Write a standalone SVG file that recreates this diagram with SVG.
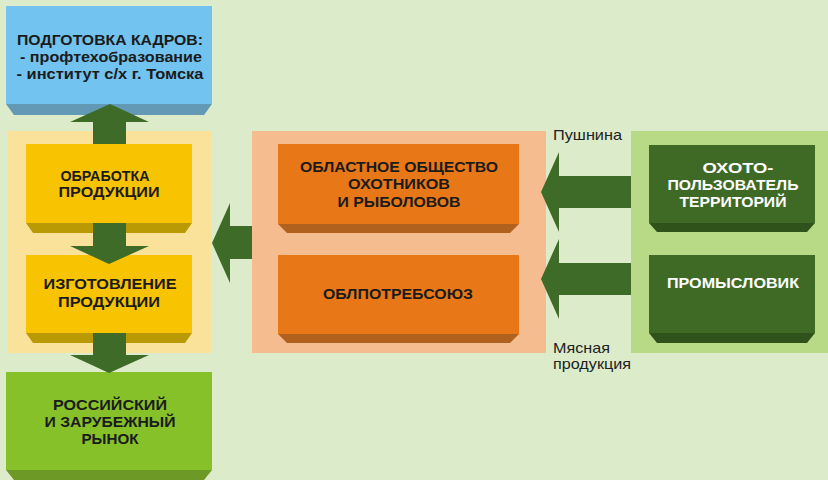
<svg xmlns="http://www.w3.org/2000/svg" width="828" height="480" viewBox="0 0 828 480">
<style>
.t{font-family:"Liberation Sans",Arial,sans-serif;font-weight:bold;font-size:15px;fill:#1b1b1b;text-anchor:middle}
.h{font-size:15.5px}
.w{fill:#ffffff}
.l{font-family:"Liberation Sans",Arial,sans-serif;font-size:15px;fill:#222222}
.arr{fill:#3e6b27}
</style>
<rect width="828" height="480" fill="#dcebca"/>
<g id="panels">
<rect x="8" y="131" width="203" height="222" fill="#fbe29b"/>
<rect x="252" y="131" width="294" height="222" fill="#f5bc8f"/>
<rect x="631" y="131" width="197" height="222" fill="#b8da86"/>
</g>
<g id="node-kadry">
<polygon points="6,104 212,104 204,115 14,115" fill="#6399b5"/>
<rect x="6" y="6" width="206" height="98" fill="#72c3ef"/>
<text class="t h" x="110" y="45" textLength="186" lengthAdjust="spacingAndGlyphs">ПОДГОТОВКА КАДРОВ:</text>
<text class="t h" x="111" y="62" textLength="182" lengthAdjust="spacingAndGlyphs">- профтехобразование</text>
<text class="t h" x="110" y="79" textLength="187" lengthAdjust="spacingAndGlyphs">- институт с/х г. Томска</text>
</g>
<g id="node-obrabotka">
<polygon points="26,223 192,223 185,233 33,233" fill="#b99a05"/>
<rect x="26" y="144" width="166" height="79" fill="#f8c300"/>
<text class="t" x="105" y="181" textLength="89" lengthAdjust="spacingAndGlyphs">ОБРАБОТКА</text>
<text class="t" x="109" y="197" textLength="101" lengthAdjust="spacingAndGlyphs">ПРОДУКЦИИ</text>
</g>
<g id="node-izgotovlenie">
<polygon points="26,333 192,333 185,343 33,343" fill="#b99a05"/>
<rect x="26" y="255" width="166" height="78" fill="#f8c300"/>
<text class="t" x="110" y="289" textLength="133" lengthAdjust="spacingAndGlyphs">ИЗГОТОВЛЕНИЕ</text>
<text class="t" x="109" y="307" textLength="102" lengthAdjust="spacingAndGlyphs">ПРОДУКЦИИ</text>
</g>
<g id="node-rynok">
<polygon points="6,470 212,470 204,480 14,480" fill="#6d9a27"/>
<rect x="6" y="372" width="206" height="98" fill="#86c12a"/>
<text class="t" x="110" y="410" textLength="114" lengthAdjust="spacingAndGlyphs">РОССИЙСКИЙ</text>
<text class="t" x="110" y="427" textLength="131" lengthAdjust="spacingAndGlyphs">И ЗАРУБЕЖНЫЙ</text>
<text class="t" x="110" y="444" textLength="57" lengthAdjust="spacingAndGlyphs">РЫНОК</text>
</g>
<g id="node-obshchestvo">
<polygon points="278,224 519,224 510,233 287,233" fill="#b0611d"/>
<rect x="278" y="144" width="241" height="80" fill="#e87817"/>
<text class="t" x="399" y="172" textLength="198" lengthAdjust="spacingAndGlyphs">ОБЛАСТНОЕ ОБЩЕСТВО</text>
<text class="t" x="399" y="189" textLength="102" lengthAdjust="spacingAndGlyphs">ОХОТНИКОВ</text>
<text class="t" x="399" y="207" textLength="123" lengthAdjust="spacingAndGlyphs">И РЫБОЛОВОВ</text>
</g>
<g id="node-oblpotrebsoyuz">
<polygon points="278,334 519,334 510,343 287,343" fill="#b0611d"/>
<rect x="278" y="255" width="241" height="79" fill="#e87817"/>
<text class="t" x="398" y="299" textLength="150" lengthAdjust="spacingAndGlyphs">ОБЛПОТРЕБСОЮЗ</text>
</g>
<g id="node-okhotopolzovatel">
<polygon points="649,223 815,223 807,232 657,232" fill="#2e5219"/>
<rect x="649" y="145" width="166" height="78" fill="#3e6a25"/>
<text class="t w" x="738" y="173" textLength="71" lengthAdjust="spacingAndGlyphs">ОХОТО-</text>
<text class="t w" x="733" y="190" textLength="131" lengthAdjust="spacingAndGlyphs">ПОЛЬЗОВАТЕЛЬ</text>
<text class="t w" x="733" y="207" textLength="107" lengthAdjust="spacingAndGlyphs">ТЕРРИТОРИЙ</text>
</g>
<g id="node-promyslovik">
<polygon points="649,333 815,333 807,343 657,343" fill="#2e5219"/>
<rect x="649" y="255" width="166" height="78" fill="#3e6a25"/>
<text class="t w" x="733" y="288" textLength="132" lengthAdjust="spacingAndGlyphs">ПРОМЫСЛОВИК</text>
</g>
<g id="connectors">
<polygon class="arr" points="93,144 93,122 70,122 110,104 149,122 126,122 126,144"/>
<polygon class="arr" points="93,223 93,246 70,246 109,264 149,246 126,246 126,223"/>
<polygon class="arr" points="93,333 93,355 70,355 109,373 149,355 126,355 126,333"/>
<polygon class="arr" points="252,226 230,226 230,203 212,243 230,283 230,259 252,259"/>
<polygon class="arr" points="631,176 559,176 559,152 541,192 559,232 559,208 631,208"/>
<polygon class="arr" points="631,263 559,263 559,239 541,279 559,319 559,295 631,295"/>
</g>
<g id="labels">
<text class="l" x="553" y="140" textLength="69" lengthAdjust="spacingAndGlyphs">Пушнина</text>
<text class="l" x="553" y="353" textLength="57" lengthAdjust="spacingAndGlyphs">Мясная</text>
<text class="l" x="553" y="369" textLength="78" lengthAdjust="spacingAndGlyphs">продукция</text>
</g>
</svg>
